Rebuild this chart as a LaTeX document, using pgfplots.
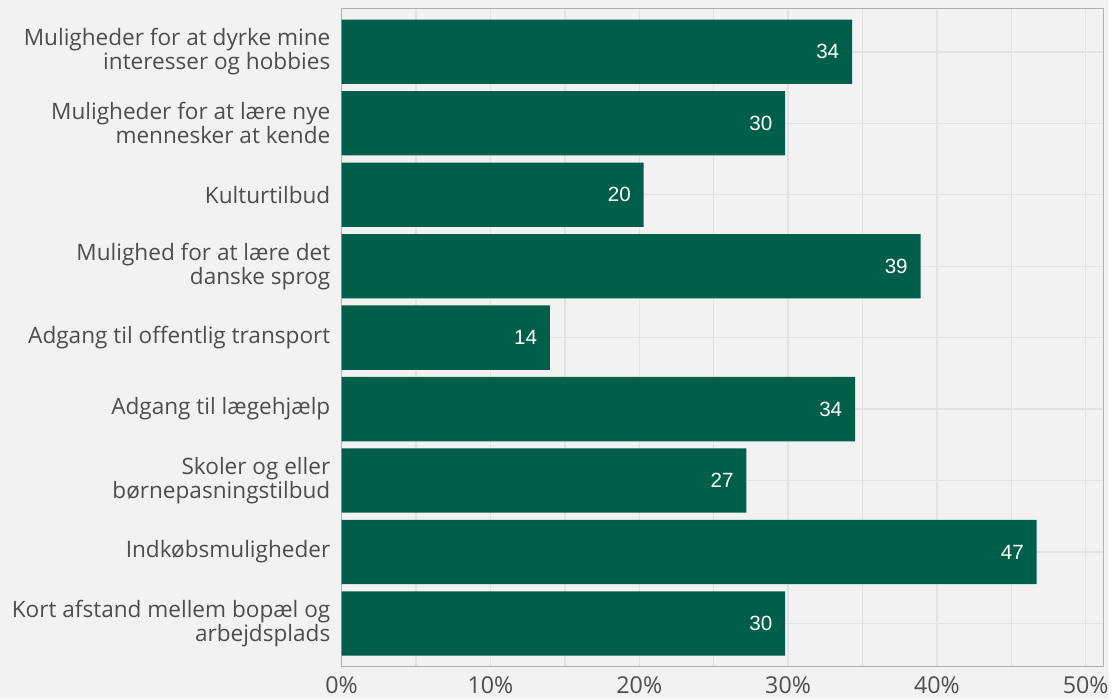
\documentclass[border=0pt]{standalone}
\usepackage{pgfplots}
\pgfplotsset{compat=1.18}
\usepackage{pgfplotstable}
\usepackage{fontspec}
\setmainfont{Open Sans}
\newfontfamily\arial{Liberation Sans}
\definecolor{bg}{HTML}{F2F2F2}
\definecolor{barc}{HTML}{005F4A}
\definecolor{gridc}{HTML}{E3E3E3}
\definecolor{txt}{HTML}{4D4D4D}
\definecolor{framec}{HTML}{B0B0B0}

\pgfplotstableread{
pos val lab
1 34.3 34
2 29.8 30
3 20.3 20
4 38.9 39
5 14.0 14
6 34.5 34
7 27.2 27
8 46.7 47
9 29.8 30
}\data

\begin{document}
\begin{tikzpicture}
\fill[bg] (-257.25pt,-24.75pt) rectangle (577.5pt,501.75pt);
\begin{axis}[
  at={(0,0)}, anchor=south west,
  scale only axis, width=573.75pt, height=495pt,
  xmin=0, xmax=51.2, ymin=0.4, ymax=9.6,
  y dir=reverse,
  xbar, bar width=0.9,
  axis background/.style={fill=bg},
  axis line style={framec, line width=0.8pt},
  major tick length=0pt, minor tick length=0pt,
  xtick={0,10,20,30,40,50},
  xticklabels={0\%,10\%,20\%,30\%,40\%,50\%},
  minor xtick={5,15,25,35,45},
  ytick={1,...,9},
  yticklabels={
    {Muligheder for at dyrke mine\\interesser og hobbies},
    {Muligheder for at lære nye\\mennesker at kende},
    {Kulturtilbud},
    {Mulighed for at lære det\\danske sprog},
    {Adgang til offentlig transport},
    {Adgang til lægehjælp},
    {Skoler og eller\\børnepasningstilbud},
    {Indkøbsmuligheder},
    {Kort afstand mellem bopæl og\\arbejdsplads}},
  grid=both,
  major grid style={gridc, line width=1pt},
  minor grid style={gridc, line width=1pt},
  yticklabel style={align=right, text=txt, font=\fontsize{17}{18}\selectfont, xshift=-5pt},
  xticklabel style={text=txt, font=\fontsize{17.5}{18}\selectfont, yshift=-4.5pt},
  point meta=explicit symbolic,
  nodes near coords,
  nodes near coords style={anchor=east, xshift=-9.5pt, inner sep=0pt, text=white, font=\arial\fontsize{15.5}{18}\selectfont},
]
\addplot[fill=barc, draw=none] table[x=val, y=pos, meta=lab] {\data};
\end{axis}
\end{tikzpicture}
\end{document}
